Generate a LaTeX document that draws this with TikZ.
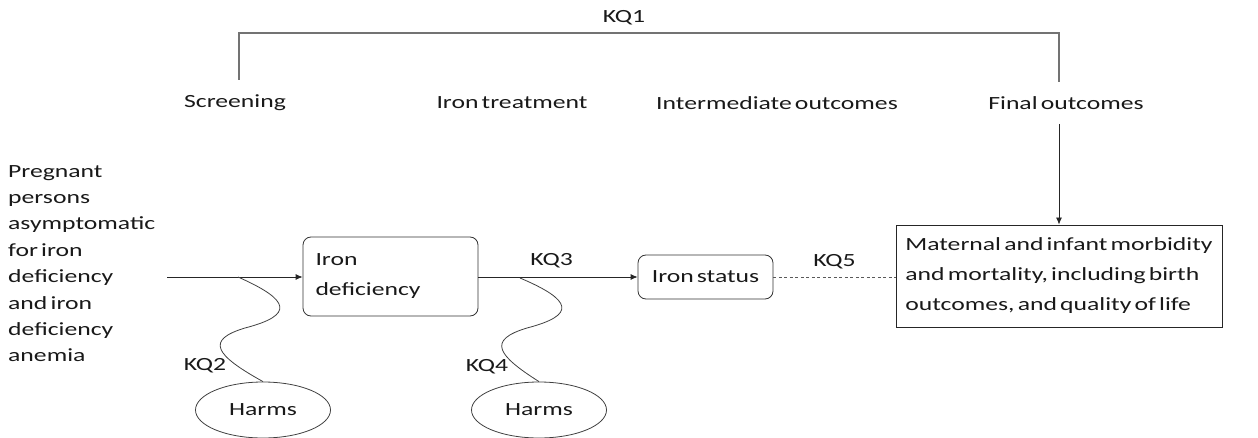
\documentclass[tikz,border=0pt]{standalone}
\usepackage{fontspec}
\setmainfont{Carlito}[FakeStretch=1.38, WordSpace=0.55]
\usetikzlibrary{arrows.meta,shapes.geometric}
\begin{document}
\begin{tikzpicture}[x=1pt,y=-1pt,
  every node/.style={font=\fontsize{18.6}{26.4}\selectfont, text=black!90},
  lbl/.style={inner sep=0pt},
  boxfont/.style={font=\fontsize{18.6}{30}\selectfont},
  rbox/.style={draw=black!80, rounded corners=8pt, line width=0.8pt, boxfont},
  sbox/.style={draw=black!85, line width=0.9pt, boxfont},
  harm/.style={draw=black!75, ellipse, line width=0.8pt, minimum width=135pt, minimum height=56pt, inner sep=0pt},
  conn/.style={draw=black!85, line width=0.8pt},
  arr/.style={conn, -{Latex[length=7pt,width=6pt]}},
  wig/.style={draw=black!75, line width=0.8pt},
  brk/.style={draw=black!55, line width=1.1pt}
]
\useasboundingbox (0,0) rectangle (1258,438);

% top labels
\node[lbl] (kq1) at (624,18) {KQ1};
\node[lbl] (scr) at (235,103) {Screening};
\node[lbl] (trt) at (512,103) {Iron treatment};
\node[lbl] (int) at (777,103) {Intermediate outcomes};
\node[lbl] (fin) at (1066,103) {Final outcomes};

% bracket
\coordinate (bl) at (239,80);
\coordinate (br) at (1059,82);
\draw[brk] (bl) -- (239,33) -- (1059,33) -- (br);

% population text
\node[lbl, anchor=north west, align=left] (pop) at (8,165)
  {Pregnant\\persons\\asymptomatic\\for iron\\deficiency\\and iron\\deficiency\\anemia};

% boxes
\node[rbox, minimum width=175pt, minimum height=79pt, text width=150pt, inner xsep=12.5pt, align=left] (idef) at (390.5,276.5) {Iron\\deficiency};
\node[rbox, minimum width=135pt, minimum height=44pt] (ist) at (705.5,277) {Iron status};
\node[sbox, minimum width=326pt, minimum height=102pt, align=left] (fbox) at (1059,276)
  {Maternal and infant morbidity\\and mortality, including birth\\outcomes, and quality of life};

% harms
\node[harm] (h1) at (263,410) {Harms};
\node[harm] (h2) at (539,410) {Harms};

% connectors
\coordinate (start) at (167,277);
\draw[arr] (start) -- (idef.west |- start);
\draw[arr] (idef.east |- 0,277) -- (ist.west |- 0,277) node[lbl, pos=0.46, above=9pt] (kq3) {KQ3};
\draw[conn, dashed, dash pattern=on 3pt off 2.5pt, draw=black!65] (ist.east) -- (fbox.west |- ist.east) node[lbl, midway, above=8pt] (kq5) {KQ5};
\coordinate (ft) at (1059,124);
\draw[arr] (ft) -- (fbox.north);

% squiggles
\coordinate (w1) at (238,277);
\coordinate (w2) at (520,278);
\draw[wig] (w1) .. controls (290,300) and (295,315) .. (245,328) .. controls (205,340) and (215,355) .. (h1.north);
\draw[wig] (w2) .. controls (572,300) and (577,315) .. (527,328) .. controls (487,340) and (497,355) .. (h2.north);
\node[lbl] (kq2) at (205,366) {KQ2};
\node[lbl] (kq4) at (487,367) {KQ4};
\end{tikzpicture}
\end{document}
